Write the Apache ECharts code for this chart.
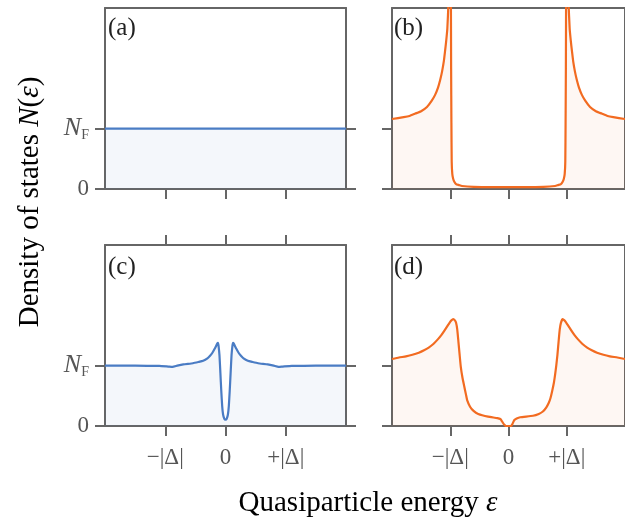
<!DOCTYPE html>
<html><head><meta charset="utf-8">
<script src="https://cdn.jsdelivr.net/npm/echarts@6/dist/echarts.min.js"></script>
<style>html,body{margin:0;padding:0;background:#fff}#c{width:625px;height:523px}</style>
</head><body><div id="c"></div>
<script>
// ---- data ----
const xTickValues = [-1, 0, 1];
const xTickLabels = ['−|Δ|', '0', '+|Δ|'];
const yTickValues = [0, 1];
const yTickLabels = ['0', 'NF'];
const panelLabels = ['(a)', '(b)', '(c)', '(d)'];
const xTitle = 'Quasiparticle energy ';
const yTitle = 'Density of states ';

// (a) normal metal
const energyA = [-2, 2];
const dosA = [1, 1];

// (b) BCS superconductor
const energyB = [-2, -1.8, -1.7, -1.6, -1.5, -1.4, -1.32, -1.26, -1.21, -1.17, -1.14, -1.11, -1.09, -1.07, -1.05, -1.03, -1.01, -1.0, -0.99, -0.985, -0.98, -0.975, -0.965, -0.95, -0.93, -0.9, -0.85, -0.8, -0.6, -0.3, 0,
  0.3, 0.6, 0.8, 0.85, 0.9, 0.93, 0.95, 0.965, 0.975, 0.98, 0.985, 0.99, 1.0, 1.01, 1.03, 1.05, 1.07, 1.09, 1.11, 1.14, 1.17, 1.21, 1.26, 1.32, 1.4, 1.5, 1.6, 1.7, 1.8, 2];
const dosB = [1.16, 1.19, 1.21, 1.25, 1.29, 1.36, 1.46, 1.56, 1.68, 1.82, 1.95, 2.12, 2.28, 2.45, 2.66, 3.1, 4.0, 4.5, 3.5, 2.0, 1.1, 0.45, 0.25, 0.17, 0.12, 0.08, 0.065, 0.05, 0.035, 0.03, 0.03,
  0.03, 0.035, 0.05, 0.065, 0.08, 0.12, 0.17, 0.25, 0.45, 1.1, 2.0, 3.5, 4.5, 4.0, 3.1, 2.66, 2.45, 2.28, 2.12, 1.95, 1.82, 1.68, 1.56, 1.46, 1.36, 1.29, 1.25, 1.21, 1.19, 1.16];

// (c) normal metal with proximity gap
const energyC = [-2, -1.5, -1.1, -0.95, -0.88, -0.8, -0.7, -0.54, -0.45, -0.37, -0.3, -0.26, -0.22, -0.18, -0.15, -0.135, -0.125, -0.115, -0.1, -0.085, -0.07, -0.055, -0.04, -0.02, 0,
  0.02, 0.04, 0.055, 0.07, 0.085, 0.1, 0.115, 0.125, 0.135, 0.15, 0.18, 0.22, 0.26, 0.3, 0.37, 0.45, 0.54, 0.7, 0.8, 0.88, 0.95, 1.1, 1.5, 2];
const dosC = [1.0, 1.0, 0.995, 0.985, 0.98, 1.0, 1.02, 1.04, 1.06, 1.08, 1.12, 1.16, 1.21, 1.28, 1.34, 1.37, 1.38, 1.33, 1.17, 0.88, 0.58, 0.33, 0.19, 0.12, 0.105,
  0.12, 0.19, 0.33, 0.58, 0.88, 1.17, 1.33, 1.38, 1.37, 1.34, 1.28, 1.21, 1.16, 1.12, 1.08, 1.06, 1.04, 1.02, 1.0, 0.98, 0.985, 0.995, 1.0, 1.0];

// (d) superconductor with sub-gap states
const energyD = [-2, -1.88, -1.76, -1.65, -1.54, -1.45, -1.37, -1.29, -1.21, -1.15, -1.1, -1.05, -1.01, -0.98, -0.95, -0.92, -0.9, -0.88, -0.86, -0.84, -0.82, -0.79, -0.76, -0.73, -0.71, -0.66, -0.6, -0.52, -0.35, -0.19, -0.14, -0.12, -0.1, -0.08, -0.06, -0.04, 0,
  0.04, 0.06, 0.08, 0.1, 0.14, 0.2, 0.42, 0.52, 0.59, 0.65, 0.69, 0.72, 0.75, 0.78, 0.8, 0.82, 0.84, 0.86, 0.88, 0.9, 0.93, 0.96, 0.99, 1.03, 1.08, 1.13, 1.19, 1.27, 1.35, 1.43, 1.52, 1.63, 1.74, 1.87, 2];
const dosD = [1.11, 1.135, 1.155, 1.18, 1.215, 1.255, 1.3, 1.36, 1.44, 1.51, 1.58, 1.655, 1.715, 1.75, 1.77, 1.75, 1.71, 1.6, 1.4, 1.19, 0.99, 0.8, 0.66, 0.52, 0.43, 0.32, 0.25, 0.2, 0.155, 0.13, 0.115, 0.09, 0.06, 0.03, 0.01, 0.0, 0.0,
  0.0, 0.02, 0.06, 0.1, 0.125, 0.145, 0.17, 0.2, 0.24, 0.31, 0.38, 0.46, 0.58, 0.72, 0.85, 1.0, 1.18, 1.4, 1.6, 1.71, 1.77, 1.75, 1.715, 1.655, 1.58, 1.51, 1.44, 1.36, 1.3, 1.255, 1.215, 1.18, 1.155, 1.135, 1.11];

// ---- layout / style ----
const FONT = '"Liberation Serif", "DejaVu Serif", serif';
const AX = '#666666';
const BLUE = '#4a7cc4';
const ORANGE = '#f26b21';
const grids = [
  {left: 105, top: 8, width: 241, height: 181},
  {left: 392, top: 8, width: 242, height: 181},
  {left: 105, top: 245, width: 241, height: 181},
  {left: 392, top: 245, width: 242, height: 181}
];
const panels = [
  {e: energyA, d: dosA, c: BLUE, fill: 'rgba(74,124,196,0.09)'},
  {e: energyB, d: dosB, c: ORANGE, fill: 'rgba(242,107,33,0.08)'},
  {e: energyC, d: dosC, c: BLUE, fill: 'rgba(74,124,196,0.09)'},
  {e: energyD, d: dosD, c: ORANGE, fill: 'rgba(242,107,33,0.08)'}
];
const lineAx = {show: true, onZero: false, lineStyle: {color: AX, width: 2}};
const xAxes = [], yAxes = [], series = [];
grids.forEach((g, i) => {
  const bottomRow = i >= 2, leftCol = i % 2 === 0;
  xAxes.push({
    type: 'value', gridIndex: i, position: 'bottom', min: -2, max: 2,
    axisLine: lineAx, splitLine: {show: false},
    axisTick: {show: true, customValues: xTickValues, length: 10, lineStyle: {color: AX, width: 2}},
    axisLabel: {show: bottomRow, customValues: xTickValues, margin: 20, fontSize: 23, color: '#555', fontFamily: FONT,
      formatter: v => xTickLabels[xTickValues.indexOf(Math.round(v))]}
  });
  xAxes.push({
    type: 'value', gridIndex: i, position: 'top', min: -2, max: 2,
    axisLine: lineAx, splitLine: {show: false},
    axisTick: {show: bottomRow, customValues: xTickValues, length: 10, lineStyle: {color: AX, width: 2}},
    axisLabel: {show: false}
  });
  yAxes.push({
    type: 'value', gridIndex: i, position: 'left', min: 0, max: 3,
    axisLine: lineAx, splitLine: {show: false},
    axisTick: {show: true, customValues: yTickValues, length: 10, lineStyle: {color: AX, width: 2}},
    axisLabel: {show: leftCol, customValues: yTickValues, margin: 16, color: '#555', fontFamily: FONT, fontSize: 23,
      formatter: v => (Math.round(v) === 1 ? '{n|N}{f|F}' : '{z|' + yTickLabels[0] + '}'),
      rich: {
        n: {fontStyle: 'italic', fontSize: 26, fontFamily: FONT, color: '#555'},
        f: {fontSize: 14, fontFamily: FONT, color: '#555', padding: [13, 0, 0, 0]},
        z: {fontSize: 23, fontFamily: FONT, color: '#555'}
      }}
  });
  yAxes.push({
    type: 'value', gridIndex: i, position: 'right', min: 0, max: 3,
    axisLine: lineAx, splitLine: {show: false},
    axisTick: {show: true, customValues: yTickValues, length: 10, lineStyle: {color: AX, width: 2}},
    axisLabel: {show: false}
  });
  const p = panels[i];
  series.push({
    type: 'line', xAxisIndex: 2 * i, yAxisIndex: 2 * i, clip: true,
    data: p.e.map((x, k) => [x, p.d[k]]),
    showSymbol: false, symbol: 'none', smooth: 0.15,
    lineStyle: {color: p.c, width: 2.2, join: 'round'},
    areaStyle: {color: p.fill, origin: 'start'},
    z: 1
  });
});

const graphics = [];
const labelPos = [[108, 28], [394, 28], [108, 267], [394, 267]];
panelLabels.forEach((t, i) => {
  graphics.push({type: 'text', x: labelPos[i][0], y: labelPos[i][1], z: 10,
    style: {text: t, font: '25px ' + FONT, fill: '#222', textAlign: 'left', textVerticalAlign: 'middle'}});
});
graphics.push({type: 'text', x: 368, y: 503, z: 10,
  style: {text: '{r|' + xTitle + '}{i|ε}', textAlign: 'center', textVerticalAlign: 'middle',
    rich: {r: {fontSize: 29, fontFamily: FONT, color: '#222'},
           i: {fontSize: 29, fontFamily: FONT, fontStyle: 'italic', color: '#222'}}}});
graphics.push({type: 'text', x: 30, y: 202, rotation: Math.PI / 2, z: 10,
  style: {text: '{r|' + yTitle + '}{i|N}{r|(}{i|ε}{r|)}', textAlign: 'center', textVerticalAlign: 'middle',
    rich: {r: {fontSize: 29, fontFamily: FONT, color: '#222'},
           i: {fontSize: 29, fontFamily: FONT, fontStyle: 'italic', color: '#222'}}}});

const chart = echarts.init(document.getElementById('c'), null, {renderer: 'canvas'});
chart.setOption({
  animation: false,
  backgroundColor: '#ffffff',
  grid: grids,
  xAxis: xAxes,
  yAxis: yAxes,
  series: series,
  graphic: graphics
});
</script></body></html>
